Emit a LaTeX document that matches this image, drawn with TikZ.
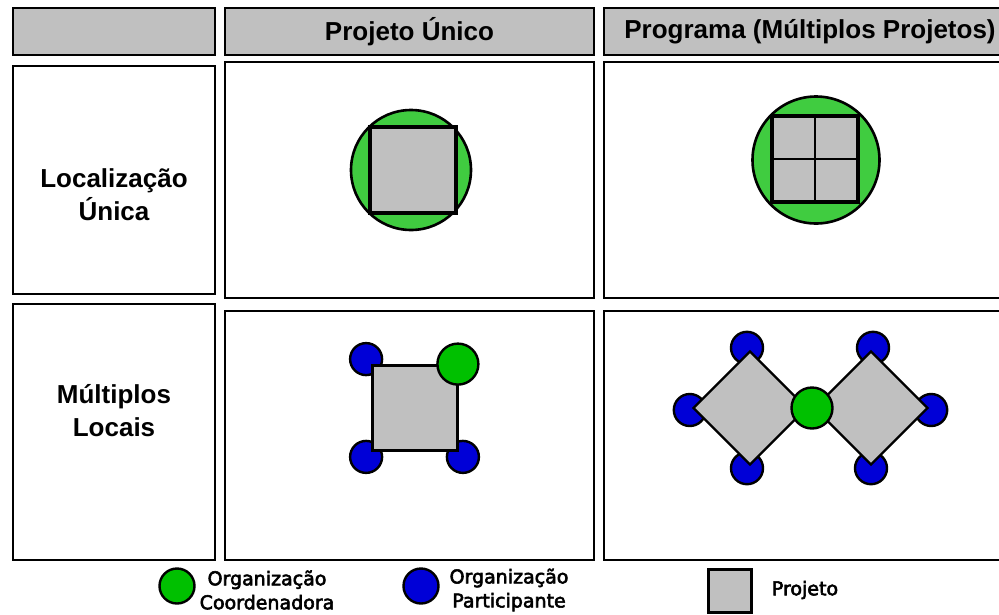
\documentclass[tikz,border=0pt]{standalone}
\usepackage{fontspec}
\setmainfont{Liberation Sans}
\newfontfamily\legendfont[FakeBold=3]{DejaVu Sans}
\usetikzlibrary{shapes.geometric, backgrounds, positioning}

\definecolor{headgray}{RGB}{192,192,192}
\definecolor{projgray}{RGB}{192,192,192}
\definecolor{ringgreen}{RGB}{64,204,64}
\definecolor{coordgreen}{RGB}{0,192,0}
\definecolor{partblue}{RGB}{0,0,215}

\tikzset{
  cell/.style={rectangle, draw=black, line width=2.6pt, inner sep=0pt},
  headcell/.style={cell, fill=headgray, font=\bfseries\fontsize{26}{30}\selectfont},
  rowlabel/.style={align=center, inner sep=0pt, font=\bfseries\fontsize{26}{33}\selectfont},
  legendtext/.style={align=center, inner sep=0pt, font=\legendfont\fontsize{19}{24}\selectfont},
  ring/.style={circle, draw=black, line width=2.6pt, fill=ringgreen, inner sep=0pt},
  proj/.style={rectangle, draw=black, line width=3.2pt, fill=projgray, inner sep=0pt},
  projdia/.style={diamond, aspect=1, draw=black, line width=2.4pt, fill=projgray, inner sep=0pt},
  coordorg/.style={circle, draw=black, line width=2.4pt, fill=coordgreen, inner sep=0pt, minimum size=41},
  partorg/.style={circle, draw=black, line width=2.4pt, fill=partblue, inner sep=0pt, minimum size=32},
  gridline/.style={black, line width=1.6pt}
}

\begin{document}
\begin{tikzpicture}[x=1pt, y=-1pt]
  \useasboundingbox (0,0) rectangle (999,614);

  % Header row
  \node[headcell, minimum width=202, minimum height=47] (hcorner) at (114,31.5) {};
  \node[headcell, minimum width=369, minimum height=47] (hsingle) at (409.5,31.5) {Projeto Único};
  \node[headcell, minimum width=412, minimum height=47] (hprog) at (810,31.5) {Programa (Múltiplos Projetos)};

  % Table cells
  \node[cell, minimum width=202, minimum height=228] (lsingle) at (114,180) {};
  \node[cell, minimum width=369, minimum height=236] (csingleA) at (409.5,180) {};
  \node[cell, minimum width=412, minimum height=236] (csingleB) at (810,180) {};
  \node[cell, minimum width=202, minimum height=256] (lmulti) at (114,432) {};
  \node[cell, minimum width=369, minimum height=249] (cmultiA) at (409.5,435.5) {};
  \node[cell, minimum width=412, minimum height=249] (cmultiB) at (810,435.5) {};

  % Row labels
  \node[rowlabel] (tsingle) at (114,195) {Localização\\Única};
  \node[rowlabel] (tmulti) at (114,411) {Múltiplos\\Locais};

  % Single site, single project
  \node[ring, minimum size=120] (ringA) at (411,170) {};
  \node[proj, minimum size=86] (projA) at (413,170) {};

  % Single site, programme
  \node[ring, minimum size=127] (ringB) at (816,160) {};
  \node[proj, minimum size=86] (projB) at (815,159) {};
  \draw[gridline] (projB.north) -- (projB.south);
  \draw[gridline] (projB.west) -- (projB.east);

  % Multiple sites, single project
  \node[proj, minimum size=85, line width=2.8pt] (projC) at (415,408) {};
  \begin{pgfonlayer}{background}
    \node[partorg] (partC1) at ([shift={(-5,-5)}]projC.north west) {};
    \node[partorg] (partC2) at ([shift={(-5,5)}]projC.south west) {};
    \node[partorg] (partC3) at ([shift={(4,5)}]projC.south east) {};
  \end{pgfonlayer}
  \node[coordorg] (coordC) at ([shift={(-1,0)}]projC.north east) {};

  % Multiple sites, programme
  \node[projdia, minimum size=114] (projL) at (750,408) {};
  \node[projdia, minimum size=114] (projR) at (871,408) {};
  \begin{pgfonlayer}{background}
    \node[partorg] (partL1) at ([shift={(-3,-2)}]projL.north) {};
    \node[partorg] (partL2) at ([shift={(-2,2)}]projL.west) {};
    \node[partorg] (partL3) at ([shift={(-3,2)}]projL.south) {};
    \node[partorg] (partR1) at ([shift={(2,-2)}]projR.north) {};
    \node[partorg] (partR2) at ([shift={(2,2)}]projR.east) {};
    \node[partorg] (partR3) at ([shift={(0,2)}]projR.south) {};
  \end{pgfonlayer}
  \node[coordorg] (coordD) at (812,408) {};

  % Legend
  \node[coordorg, minimum size=35] (keyC) at (177,586) {};
  \node[legendtext] (keyCtext) at (267,590) {Organização\\Coordenadora};
  \node[partorg, minimum size=35] (keyP) at (421,586) {};
  \node[legendtext] (keyPtext) at (509,590) {Organização\\Participante};
  \node[proj, minimum size=43, line width=2.6pt] (keyJ) at (730,591) {};
  \node[legendtext] (keyJtext) at (805,590) {Projeto};
\end{tikzpicture}
\end{document}
